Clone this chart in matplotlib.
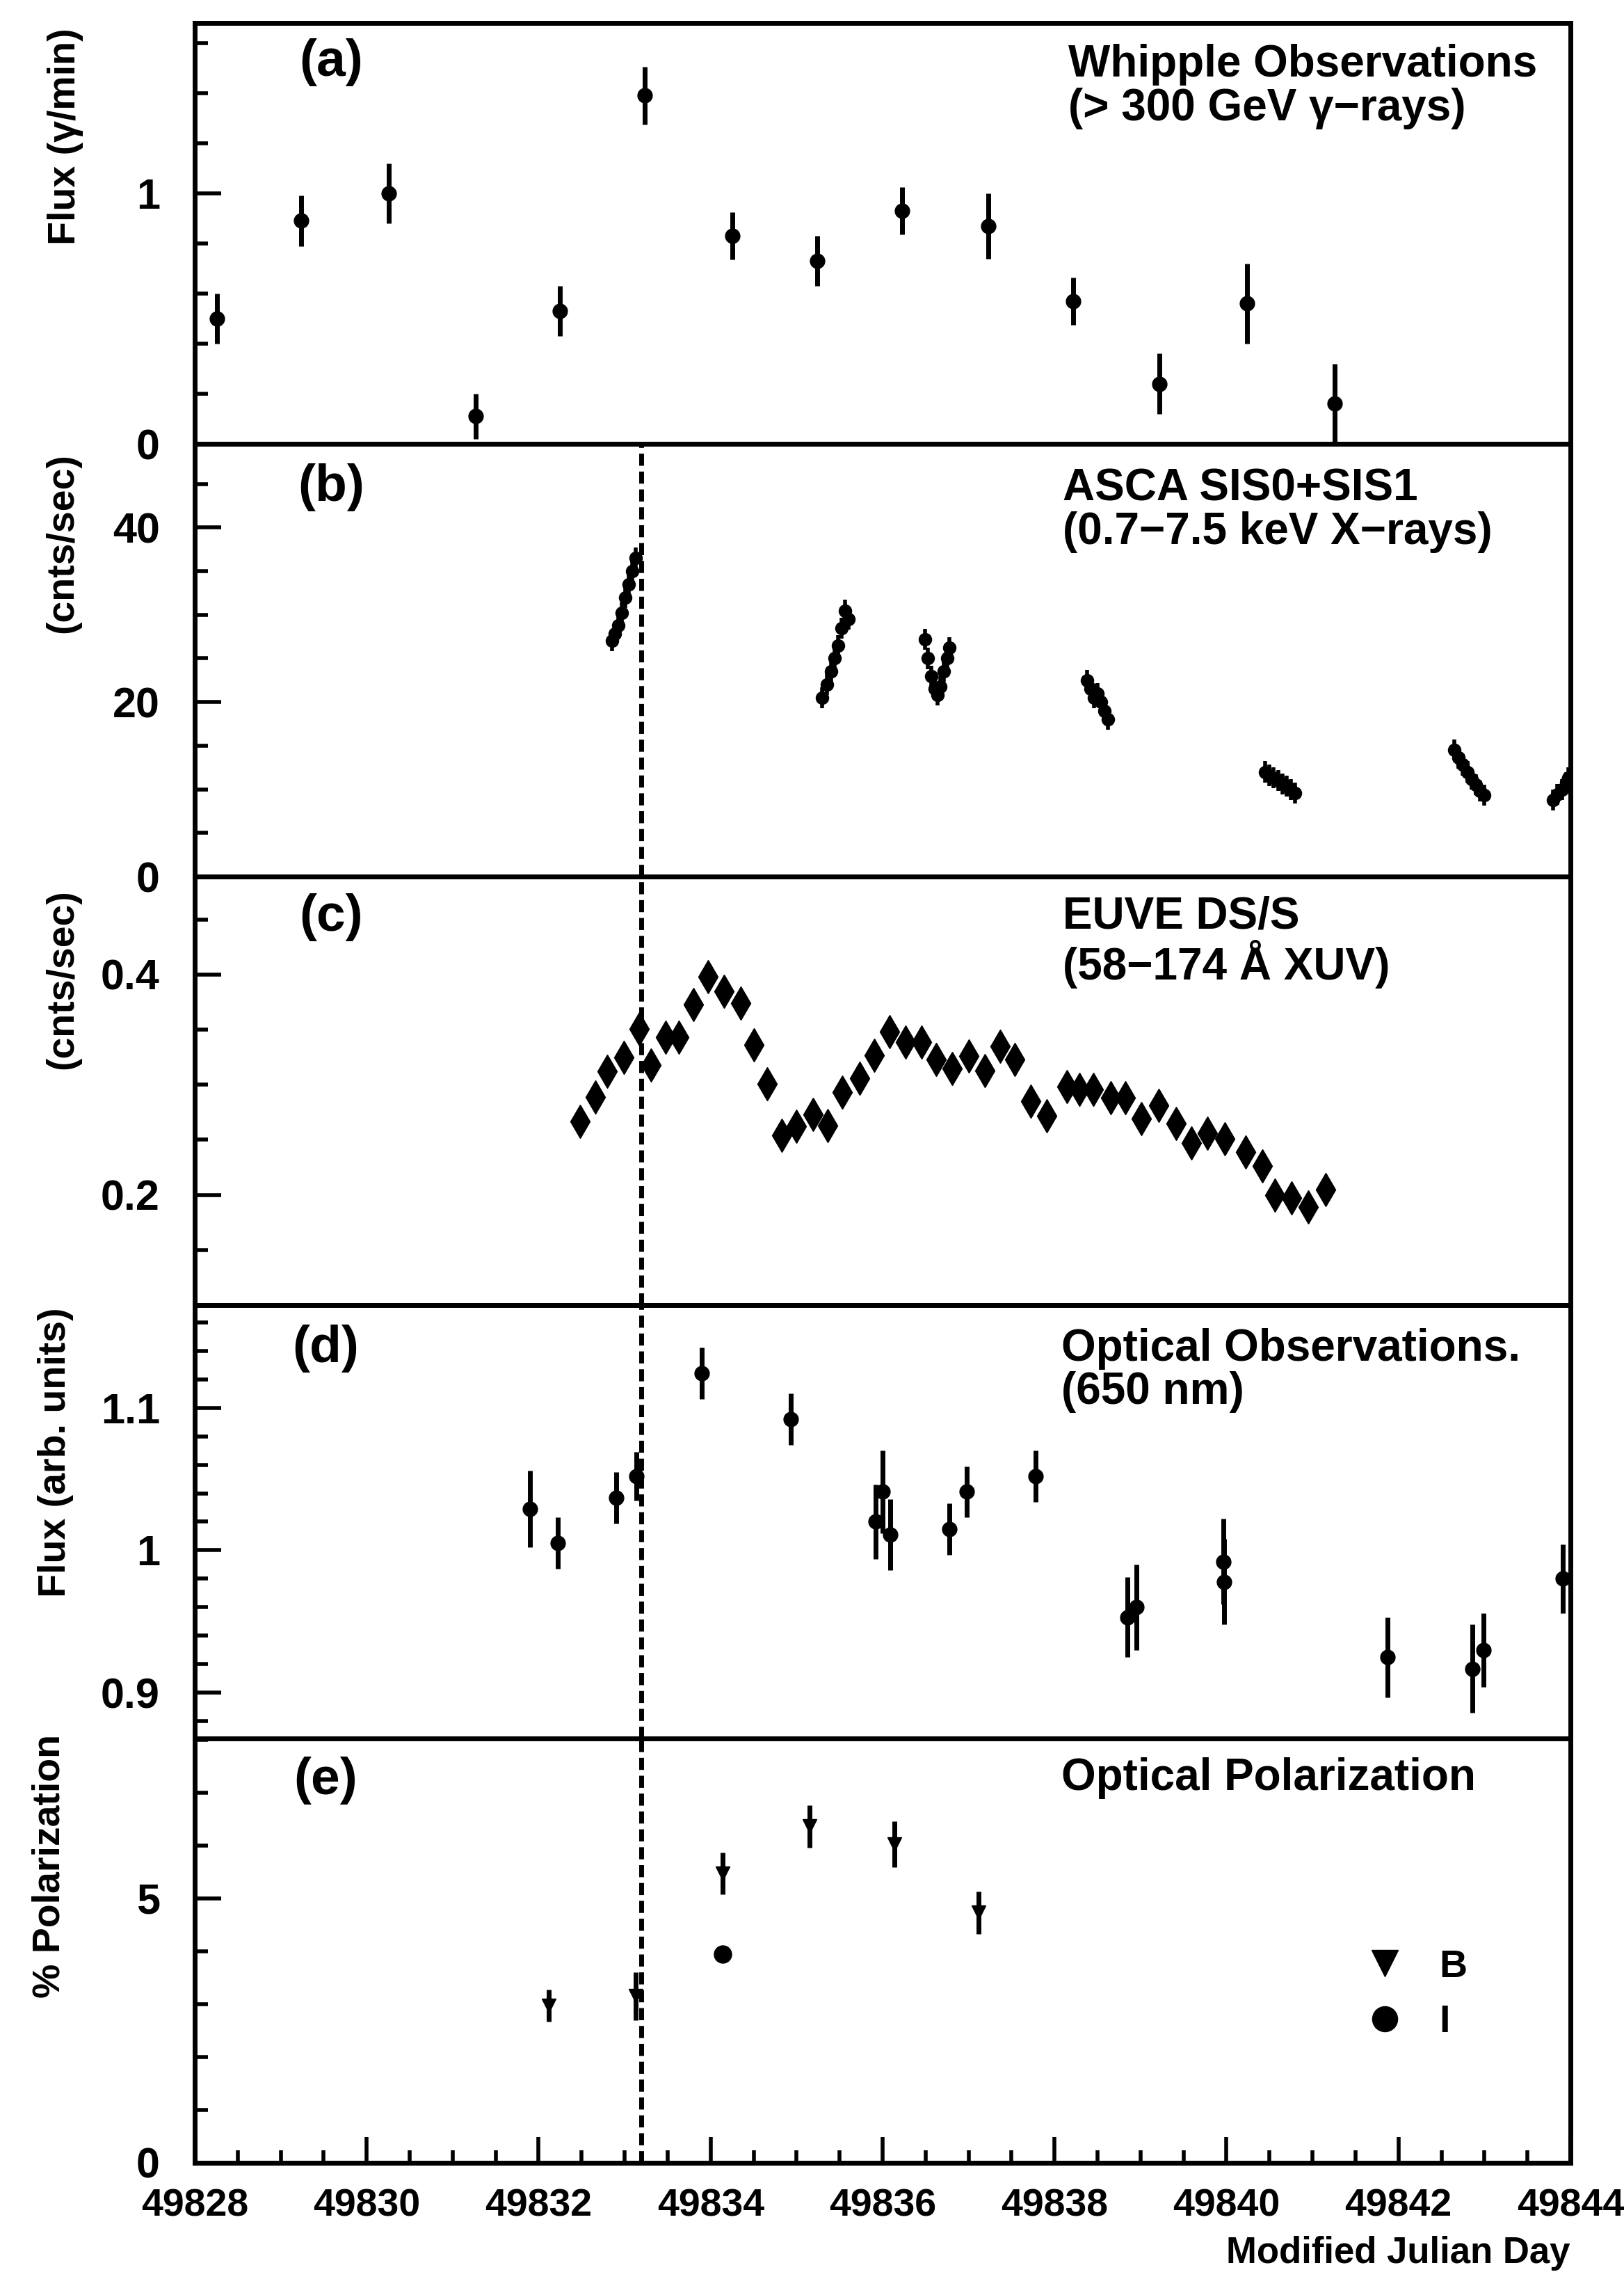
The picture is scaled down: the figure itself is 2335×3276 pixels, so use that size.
import matplotlib
matplotlib.use('Agg')
import matplotlib.pyplot as plt
from matplotlib.ticker import MultipleLocator
from matplotlib.lines import Line2D

# (a) Whipple TeV flux
whipple_mjd = [49828.26, 49829.24, 49830.26, 49831.27, 49832.25, 49833.23, 49834.25,
               49835.24, 49836.23, 49837.23, 49838.22, 49839.22, 49840.24, 49841.26]
whipple_flux = [0.50, 0.89, 1.00, 0.11, 0.53, 1.39, 0.83, 0.73, 0.93, 0.87, 0.57, 0.24, 0.56, 0.16]
whipple_err = [0.10, 0.10, 0.12, 0.09, 0.10, 0.115, 0.095, 0.10, 0.095, 0.13, 0.095, 0.12, 0.16, 0.16]

# (b) ASCA SIS0+SIS1 count rate
asca_mjd = [49832.85, 49832.89, 49832.93, 49832.97, 49833.01, 49833.05, 49833.09, 49833.13,
            49835.30, 49835.35, 49835.40, 49835.44, 49835.48, 49835.52, 49835.56, 49835.60,
            49836.49, 49836.53, 49836.57, 49836.61, 49836.64, 49836.67, 49836.71, 49836.75, 49836.78,
            49838.38, 49838.42, 49838.46, 49838.50, 49838.54, 49838.58, 49838.62,
            49840.45, 49840.50, 49840.55, 49840.60, 49840.65, 49840.70, 49840.75, 49840.80,
            49842.65, 49842.70, 49842.75, 49842.80, 49842.85, 49842.90, 49842.95, 49843.00,
            49843.80, 49843.85, 49843.90, 49843.95, 49843.98]
asca_rate = [27.0, 27.8, 28.8, 30.2, 32.0, 33.5, 35.0, 36.5,
             20.5, 22.0, 23.5, 25.0, 26.5, 28.5, 30.5, 29.5,
             27.2, 25.0, 23.0, 21.5, 20.8, 21.8, 23.5, 25.0, 26.2,
             22.5, 21.5, 20.5, 21.0, 20.0, 19.0, 18.0,
             12.0, 11.6, 11.3, 11.0, 10.6, 10.4, 10.0, 9.6,
             14.5, 13.6, 12.8, 12.0, 11.2, 10.5, 9.8, 9.3,
             8.8, 9.4, 10.0, 10.8, 11.3]

# (c) EUVE DS/S count rate
euve_mjd = [49832.48, 49832.66, 49832.80, 49832.99, 49833.17, 49833.31, 49833.48, 49833.63,
            49833.80, 49833.97, 49834.16, 49834.35, 49834.50, 49834.66, 49834.83, 49835.00,
            49835.19, 49835.36, 49835.53, 49835.73, 49835.90, 49836.08, 49836.27, 49836.45,
            49836.62, 49836.81, 49837.00, 49837.19, 49837.37, 49837.54, 49837.72, 49837.91,
            49838.14, 49838.29, 49838.45, 49838.65, 49838.82, 49839.01, 49839.21, 49839.41,
            49839.59, 49839.78, 49839.98, 49840.22, 49840.42, 49840.56, 49840.76, 49840.95,
            49841.15]
euve_rate = [0.267, 0.289, 0.312, 0.325, 0.351, 0.318, 0.343, 0.343, 0.373, 0.398,
             0.385, 0.374, 0.336, 0.301, 0.254, 0.262, 0.273, 0.263, 0.293, 0.306,
             0.327, 0.348, 0.339, 0.339, 0.323, 0.315, 0.326, 0.313, 0.335, 0.323,
             0.285, 0.272, 0.298, 0.296, 0.296, 0.288, 0.288, 0.269, 0.281, 0.265,
             0.247, 0.256, 0.251, 0.239, 0.226, 0.200, 0.197, 0.189, 0.205]
euve_err = 0.011

# (d) optical flux
optical_mjd = [49831.90, 49832.22, 49832.90, 49833.14, 49833.90, 49834.93, 49835.92, 49836.00,
               49836.09, 49836.78, 49836.98, 49837.78, 49838.85, 49838.95, 49839.96, 49839.97,
               49841.87, 49842.86, 49842.99, 49843.91]
optical_flux = [1.029, 1.005, 1.037, 1.052, 1.124, 1.092, 1.020, 1.041, 1.011, 1.015,
                1.041, 1.052, 0.953, 0.960, 0.992, 0.978, 0.925, 0.917, 0.930, 0.980]
optical_err = [0.027, 0.018, 0.018, 0.017, 0.018, 0.018, 0.026, 0.029, 0.025, 0.018,
               0.018, 0.018, 0.028, 0.030, 0.030, 0.030, 0.028, 0.031, 0.026, 0.024]

# (e) optical polarization, B and I bands
pol_b_mjd = [49832.12, 49833.13, 49834.14, 49835.15, 49836.14, 49837.12]
pol_b = [2.97, 3.15, 5.47, 6.36, 6.02, 4.73]
pol_b_err = [0.30, 0.45, 0.40, 0.40, 0.43, 0.40]
pol_i_mjd = [49834.14]
pol_i = [3.95]

flare_mjd = 49833.19

plt.rcParams['font.family'] = ['Liberation Sans', 'DejaVu Sans']
plt.rcParams['font.weight'] = 'bold'
plt.rcParams['axes.labelweight'] = 'bold'

fig = plt.figure(figsize=(23.35, 32.76), dpi=100)
left, width = 0.1199, 0.8471
boxes = [(0.80525, 0.18468), (0.61538, 0.18987), (0.42735, 0.18803),
         (0.23718, 0.19017), (0.05098, 0.18620)]
axes = [fig.add_axes([left, b, width, h]) for b, h in boxes]

for ax in axes:
    ax.set_xlim(49828, 49844)
    for s in ax.spines.values():
        s.set_linewidth(5)
    ax.tick_params(axis='y', which='both', direction='in', right=False, labelsize=44,
                   pad=36, width=4)
    ax.tick_params(axis='y', which='major', length=27)
    ax.tick_params(axis='y', which='minor', length=14)
    ax.tick_params(axis='x', which='both', bottom=False, top=False, labelbottom=False)

ebar = dict(color='k', capsize=0, ls='none')
txt = dict(ha='left', va='top', fontsize=46, linespacing=1.05)

# (a)
ax = axes[0]
ax.errorbar(whipple_mjd, whipple_flux, yerr=whipple_err, fmt='o', ms=15, elinewidth=5, **ebar)
ax.set_ylim(0, 1.68)
ax.set_yticks([0, 1], ['0', '1'])
ax.yaxis.set_minor_locator(MultipleLocator(0.2))
ax.set_ylabel('Flux (γ/min)', fontsize=40)
ax.yaxis.set_label_coords(-0.081, 0.73)
ax.text(0.099, 0.907, '(a)', transform=ax.transAxes, ha='center', va='center', fontsize=54)
ax.text(0.635, 0.95, 'Whipple Observations\n(> 300 GeV γ\u2212rays)', transform=ax.transAxes, **txt)

# (b)
ax = axes[1]
ax.errorbar(asca_mjd, asca_rate, yerr=1.2, fmt='o', ms=13, elinewidth=4, **ebar)
ax.set_ylim(0, 49.6)
ax.set_yticks([0, 20, 40], ['0', '20', '40'])
ax.yaxis.set_minor_locator(MultipleLocator(5))
ax.set_ylabel('(cnts/sec)', fontsize=40)
ax.yaxis.set_label_coords(-0.083, 0.77)
ax.text(0.099, 0.90, '(b)', transform=ax.transAxes, ha='center', va='center', fontsize=54)
ax.text(0.631, 0.945, 'ASCA SIS0+SIS1\n(0.7\u22127.5 keV X\u2212rays)', transform=ax.transAxes, **txt)

# (c)
ax = axes[2]
ax.errorbar(euve_mjd, euve_rate, yerr=euve_err, fmt='d', ms=24, elinewidth=4, **ebar)
ax.set_ylim(0.1, 0.489)
ax.set_yticks([0.2, 0.4], ['0.2', '0.4'])
ax.yaxis.set_minor_locator(MultipleLocator(0.05))
ax.set_ylabel('(cnts/sec)', fontsize=40)
ax.yaxis.set_label_coords(-0.083, 0.76)
ax.text(0.099, 0.905, '(c)', transform=ax.transAxes, ha='center', va='center', fontsize=54)
ax.text(0.631, 0.955, 'EUVE DS/S\n(58\u2212174 Å XUV)', transform=ax.transAxes, **txt)

# (d)
ax = axes[3]
ax.errorbar(optical_mjd, optical_flux, yerr=optical_err, fmt='o', ms=15, elinewidth=5, **ebar)
ax.set_ylim(0.868, 1.172)
ax.set_yticks([0.9, 1.0, 1.1], ['0.9', '1', '1.1'])
ax.yaxis.set_minor_locator(MultipleLocator(0.02))
ax.set_ylabel('Flux (arb. units)', fontsize=40)
ax.yaxis.set_label_coords(-0.088, 0.66)
ax.text(0.095, 0.9, '(d)', transform=ax.transAxes, ha='center', va='center', fontsize=54)
ax.text(0.63, 0.947, 'Optical Observations.\n(650 nm)', transform=ax.transAxes, **txt)

# (e)
ax = axes[4]
ax.errorbar(pol_b_mjd, pol_b, yerr=pol_b_err, fmt='v', ms=14, elinewidth=5, **ebar)
ax.plot(pol_i_mjd, pol_i, 'o', color='k', ms=18)
ax.set_ylim(0, 8.02)
ax.set_yticks([0, 5], ['0', '5'])
ax.yaxis.set_minor_locator(MultipleLocator(1))
ax.set_ylabel('% Polarization', fontsize=40)
ax.yaxis.set_label_coords(-0.092, 0.70)
ax.text(0.095, 0.9, '(e)', transform=ax.transAxes, ha='center', va='center', fontsize=54)
ax.text(0.63, 0.955, 'Optical Polarization', transform=ax.transAxes, **txt)
handles = [Line2D([], [], marker='v', ls='none', color='k', ms=28),
           Line2D([], [], marker='o', ls='none', color='k', ms=26)]
ax.legend(handles, ['B', 'I'], loc='center', bbox_to_anchor=(0.888, 0.396), frameon=False,
          fontsize=40, handletextpad=0.9, labelspacing=0.5, handlelength=1)

ax.tick_params(axis='x', which='both', bottom=True, labelbottom=True, direction='in',
               labelsize=40, pad=26, width=4)
ax.tick_params(axis='x', which='major', length=27)
ax.tick_params(axis='x', which='minor', length=13)
ax.set_xticks([49828, 49830, 49832, 49834, 49836, 49838, 49840, 49842, 49844],
              ['49828', '49830', '49832', '49834', '49836', '49838', '49840', '49842', '49844'])
ax.xaxis.set_minor_locator(MultipleLocator(0.5))
ax.set_xlabel('Modified Julian Day', fontsize=38, loc='right', labelpad=12)

# dashed marker of the X-ray flare, from panel (b) down
for ax in axes[1:]:
    ax.axvline(flare_mjd, color='k', lw=5, ls=(0, (2.5, 1.2)))

fig.savefig('out.png', dpi=100, facecolor='white')
